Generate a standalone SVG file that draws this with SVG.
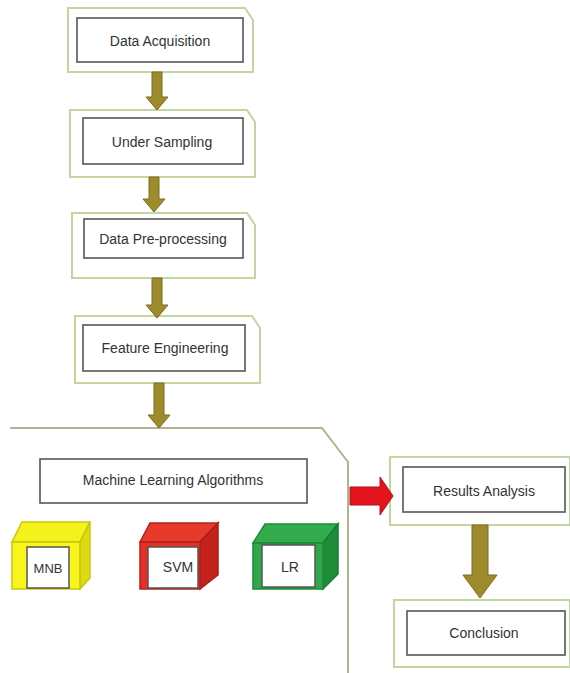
<svg xmlns="http://www.w3.org/2000/svg" width="570" height="673" viewBox="0 0 570 673">
<style>
.outer{fill:#fff;stroke:#c3d6a0;stroke-width:2}
.inner{fill:#fff;stroke:#555;stroke-width:1.6}
.t{font-family:"Liberation Sans",Arial,sans-serif;font-size:14px;fill:#333;text-anchor:middle;dominant-baseline:central}
.arr{fill:#9e8b2c;stroke:#7d6c1e;stroke-width:1}
.lbl{fill:#fff;stroke:#555;stroke-width:1.5}
</style>
<rect width="570" height="673" fill="#fff"/>
<g id="data-acquisition">
<path class="outer" d="M68,8 H245 L253,20 V72 H68 Z"/>
<rect class="inner" x="77" y="18" width="166" height="44"/>
<text class="t" x="160" y="41">Data Acquisition</text>
</g>
<g id="under-sampling">
<path class="outer" d="M70,110 H247 L255,122 V177 H70 Z"/>
<rect class="inner" x="83" y="118" width="160" height="46"/>
<text class="t" x="162" y="142">Under Sampling</text>
</g>
<g id="data-preprocessing">
<path class="outer" d="M72,213 H247 L255,225 V278 H72 Z"/>
<rect class="inner" x="84" y="219" width="159" height="39"/>
<text class="t" x="163" y="239">Data Pre-processing</text>
</g>
<g id="feature-engineering">
<path class="outer" d="M75,316 H252 L260,328 V383 H75 Z"/>
<rect class="inner" x="83" y="325" width="162" height="46"/>
<text class="t" x="165" y="348">Feature Engineering</text>
</g>
<g id="ml-algorithms">
<path d="M10,428 H322 L348,462 V673" fill="none" stroke="#aeb58e" stroke-width="2"/>
<rect class="inner" x="40" y="459" width="267" height="44"/>
<text class="t" x="173" y="480">Machine Learning Algorithms</text>
</g>
<g id="mnb">
<polygon points="12,542 22,522 90,522 80,542" fill="#f4f21a" stroke="#c9c60c" stroke-width="1.5"/>
<polygon points="80,542 90,522 90,578 80,589" fill="#dcda10" stroke="#c9c60c" stroke-width="1.5"/>
<rect x="12" y="542" width="68" height="47" fill="#f7f51c" stroke="#c9c60c" stroke-width="1.5"/>
<rect class="lbl" x="27" y="547" width="42" height="41" stroke="#6b6a20"/>
<text class="t" x="48" y="568" style="font-size:13px">MNB</text>
</g>
<g id="svm">
<polygon points="140,542 150,523 218,523 200,542" fill="#e83a2c" stroke="#b3221a" stroke-width="1.5"/>
<polygon points="200,542 218,523 218,575 200,589" fill="#c4231b" stroke="#a81e16" stroke-width="1.5"/>
<rect x="140" y="542" width="60" height="47" fill="#e43128" stroke="#b3221a" stroke-width="1.5"/>
<rect class="lbl" x="148" y="547" width="50" height="41" stroke="#7a2018"/>
<text class="t" x="178" y="567">SVM</text>
</g>
<g id="lr">
<polygon points="253,543 265,524 338,524 323,543" fill="#33ac4e" stroke="#1e8a38" stroke-width="1.5"/>
<polygon points="323,543 338,524 338,574 323,589" fill="#1f8c3a" stroke="#1a7a32" stroke-width="1.5"/>
<rect x="253" y="543" width="70" height="46" fill="#2ea84a" stroke="#1e8a38" stroke-width="1.5"/>
<rect class="lbl" x="262" y="545" width="53" height="42" stroke="#2a6a34"/>
<text class="t" x="290" y="567">LR</text>
</g>
<g id="results-analysis">
<path class="outer" d="M390,457 H570 V525 H390 Z"/>
<rect class="inner" x="403" y="467" width="162" height="45"/>
<text class="t" x="484" y="491">Results Analysis</text>
</g>
<g id="conclusion">
<path class="outer" d="M394,600 H570 V667 H394 Z"/>
<rect class="inner" x="407" y="611" width="158" height="44"/>
<text class="t" x="484" y="633">Conclusion</text>
</g>
<g id="connectors">
<polygon class="arr" points="152,72 162,72 162,97 168,97 157,110 146,97 152,97"/>
<polygon class="arr" points="149,177 159,177 159,199 165,199 154,212 143,199 149,199"/>
<polygon class="arr" points="152,278 162,278 162,305 168,305 157,318 146,305 152,305"/>
<polygon class="arr" points="154,383 164,383 164,415 170,415 159,428 148,415 154,415"/>
<polygon points="350,487 380,487 380,477 393,496 380,515 380,505 350,505" fill="#e3141c" stroke="#b01018" stroke-width="1"/>
<polygon class="arr" points="472,525 488,525 488,575 497,575 480,598 463,575 472,575"/>
</g>
</svg>
